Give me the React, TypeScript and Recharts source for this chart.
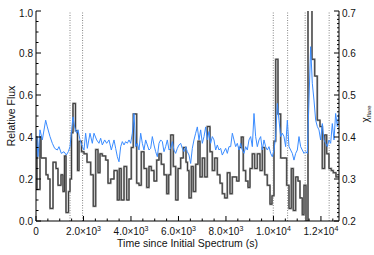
import React from "react";
import { LineChart, Line, XAxis, YAxis, ReferenceLine } from "recharts";

// relative flux, step histogram (bin start time in s)
const grayTimes = [
  0, 42, 168, 211, 421, 505, 590, 716, 842, 926, 1053, 1137, 1200, 1263, 1369, 1432, 1495, 1558, 1663, 1748,
  1811, 1916, 2021, 2148, 2303, 2413, 2514, 2611, 2695, 2792, 2935, 3032, 3146, 3285, 3424, 3508, 3592, 3706,
  3819, 3916, 4013, 4097, 4240, 4337, 4434, 4548, 4662, 4758, 4855, 4969, 5083, 5180, 5276, 5390, 5504, 5588,
  5672, 5782, 5883, 5980, 6093, 6203, 6317, 6380, 6443, 6540, 6624, 6725, 6822, 6906, 7003, 7104, 7213, 7327,
  7424, 7525, 7635, 7748, 7845, 7946, 8056, 8169, 8266, 8451, 8548, 8645, 8729, 8830, 8927, 9011, 9108, 9209,
  9319, 9433, 9530, 9631, 9740, 9854, 9938, 10022, 10094, 10191, 10304, 10414, 10557, 10654, 10751, 10835,
  10936, 11033, 11117, 11214, 11286, 11370, 11454, 11622, 11736, 11845, 11959, 12056, 12157, 12241, 12338,
  12435, 12519, 12633, 12760,
];
const grayFlux = [
  0.4, 0.15, 0.4, 0.3, 0.22, 0.2, 0.06, 0.28, 0.25, 0.17, 0.22, 0.14, 0.31, 0.04, 0.14, 0.2, 0.42, 0.56, 0.43, 0.24,
  0.38, 0.33, 0.32, 0.28, 0.22, 0.07, 0.34, 0.23, 0.32, 0.31, 0.29, 0.18, 0.2, 0.24, 0.1, 0.25, 0.1, 0.26,
  0.1, 0.2, 0.35, 0.51, 0.18, 0.17, 0.33, 0.25, 0.16, 0.26, 0.24, 0.19, 0.29, 0.32, 0.27, 0.22, 0.13, 0.22,
  0.41, 0.26, 0.1, 0.25, 0.3, 0.35, 0.28, 0.24, 0.11, 0.26, 0.14, 0.27, 0.38, 0.21, 0.3, 0.21, 0.45, 0.33,
  0.24, 0.3, 0.22, 0.18, 0.13, 0.11, 0.23, 0.13, 0.21, 0.19, 0.35, 0.4, 0.24, 0.19, 0.16, 0.25, 0.32, 0.25,
  0.32, 0.24, 0.35, 0.22, 0.17, 0.08, 0.12, 0.38, 0.77, 0.51, 0.3, 0.3, 0.17, 0.06, 0.25, 0.05,
  0.21, 0.19, 0.11, 0.03, 0.17, 0.0, 1.05, 0.77, 0.69, 0.48, 0.45, 0.25, 0.41, 0.32, 0.25,
  0.24, 0.23, 0.21, 0.21,
];

// chi_flare (right axis)
const blueTimes = [
  28, 84, 168, 267, 407, 477, 590, 688, 786, 898, 968, 1066, 1179, 1277, 1361, 1432, 1502, 1558, 1628, 1712,
  1769, 1853, 1951, 2021, 2091, 2162, 2274, 2372, 2442, 2555, 2653, 2723, 2793, 2892, 2976, 3074, 3172, 3285,
  3355, 3425, 3495, 3566, 3636, 3706, 3776, 3846, 3916, 3987, 4057, 4127, 4197, 4267, 4337, 4408, 4478, 4548,
  4618, 4688, 4758, 4829, 4899, 4969, 5039, 5109, 5180, 5250, 5320, 5390, 5460, 5530, 5601, 5671, 5741, 5811,
  5881, 5952, 6022, 6092, 6162, 6232, 6303, 6373, 6443, 6513, 6583, 6653, 6724, 6794, 6864, 6934, 7004, 7075,
  7145, 7215, 7285, 7355, 7425, 7496, 7566, 7636, 7706, 7776, 7846, 7917, 7987, 8057, 8127, 8198, 8268, 8338,
  8408, 8478, 8548, 8619, 8689, 8759, 8829, 8899, 8969, 9040, 9110, 9180, 9250, 9320, 9391, 9461, 9531, 9601,
  9671, 9742, 9812, 9882, 9952, 10022, 10093, 10163, 10233, 10303, 10373, 10443, 10514, 10584, 10654, 10724,
  10794, 10864, 10935, 11005, 11075, 11145, 11215, 11285, 11356, 11426, 11496, 11566, 11636, 11706, 11777,
  11847, 11917, 11987, 12057, 12128, 12198, 12268, 12338, 12408, 12478, 12549, 12619, 12689, 12759,
];
const blueChi = [
  0.401, 0.353, 0.417, 0.393, 0.44, 0.424, 0.401, 0.385, 0.373, 0.369, 0.377, 0.361, 0.365, 0.357, 0.365, 0.377, 0.417, 0.448, 0.424, 0.409,
  0.417, 0.393, 0.377, 0.369, 0.409, 0.373, 0.409, 0.385, 0.409, 0.393, 0.385, 0.397, 0.381, 0.393, 0.385, 0.393, 0.369, 0.393,
  0.373, 0.353, 0.341, 0.377, 0.389, 0.381, 0.389, 0.385, 0.393, 0.385, 0.409, 0.456, 0.377, 0.385, 0.369, 0.409, 0.385, 0.369,
  0.393, 0.381, 0.369, 0.373, 0.401, 0.381, 0.365, 0.353, 0.385, 0.393, 0.389, 0.365, 0.377, 0.393, 0.369, 0.373, 0.389, 0.369,
  0.361, 0.373, 0.381, 0.385, 0.373, 0.365, 0.377, 0.365, 0.357, 0.337, 0.373, 0.393, 0.409, 0.424, 0.393, 0.417, 0.385, 0.401,
  0.424, 0.393, 0.413, 0.385, 0.401, 0.393, 0.369, 0.381, 0.369, 0.373, 0.357, 0.365, 0.373, 0.361, 0.377, 0.377, 0.409, 0.393,
  0.377, 0.385, 0.369, 0.385, 0.369, 0.361, 0.377, 0.369, 0.393, 0.401, 0.377, 0.456, 0.401, 0.377, 0.393, 0.401, 0.369, 0.393,
  0.377, 0.369, 0.377, 0.361, 0.353, 0.369, 0.401, 0.48, 0.44, 0.401, 0.409, 0.401, 0.377, 0.44, 0.377, 0.369,
  0.361, 0.345, 0.361, 0.369, 0.401, 0.377, 0.369, 0.361, 0.365, 0.361, 0.488, 0.615, 0.528, 0.488, 0.44,
  0.425, 0.417, 0.393, 0.432, 0.393, 0.385, 0.377, 0.393, 0.385, 0.432, 0.393, 0.456, 0.425, 0.456,
];

const flareEdges = [1432, 1962, 9992, 10596, 11335, 12345];

const xMajor = [0, 2000, 4000, 6000, 8000, 10000, 12000];
const xMantissa = ["0", "2.0", "4.0", "6.0", "8.0", "1.0", "1.2"];
const xPower = ["", "3", "3", "3", "3", "4", "4"];
const fluxMajor = [0, 0.2, 0.4, 0.6, 0.8, 1.0];
const fluxLabels = ["0.0", "0.2", "0.4", "0.6", "0.8", "1.0"];
const chiMajor = [0.2, 0.3, 0.4, 0.5, 0.6, 0.7];
const chiLabels = ["0.2", "0.3", "0.4", "0.5", "0.6", "0.7"];

const X_MAX = 12760;
const FONT = "'Liberation Sans', Arial, Helvetica, sans-serif";

const steps = (from: number, to: number, step: number) => {
  const out: number[] = [];
  for (let i = 0; from + i * step <= to + 1e-9; i++) out.push(+(from + i * step).toFixed(4));
  return out;
};
const xTicks = steps(0, 12500, 500);
const fluxTicks = steps(0, 1, 0.05);
const chiTicks = steps(0.2, 0.7, 0.01);

const grayData = grayTimes.map((t, i) => ({ t, f: grayFlux[i] }));
const blueData = blueTimes.map((t, i) => ({ t, c: blueChi[i] }));

const makeTick = (side: string, majors: number[], labels?: string[], powers?: string[]) => (props: any) => {
  const { x, y, payload } = props;
  const v = payload.value;
  const idx = majors.findIndex((m) => Math.abs(m - v) < 1e-6);
  const major = idx >= 0;
  const len = major ? 5 : 2.5;
  const label = major && labels ? labels[idx] : null;
  const top = idx === majors.length - 1;
  if (side === "bottom") {
    return (
      <g>
        <line x1={x} y1={y} x2={x} y2={y - len} stroke="#000" />
        {label && (
          <text x={x} y={y + 14} textAnchor="middle" fontSize={10} fontFamily={FONT} fill="#111">
            {label}
            {powers && powers[idx] ? "×10" : ""}
            {powers && powers[idx] ? (
              <tspan dy={-4} fontSize={7}>
                {powers[idx]}
              </tspan>
            ) : null}
          </text>
        )}
      </g>
    );
  }
  if (side === "top") {
    return <line x1={x} y1={y} x2={x} y2={y + len} stroke="#000" />;
  }
  if (side === "left") {
    return (
      <g>
        <line x1={x} y1={y} x2={x + len} y2={y} stroke="#000" />
        {label && (
          <text x={x - 3} y={y + (top ? 6 : 3.6)} textAnchor="end" fontSize={10} fontFamily={FONT} fill="#111">
            {label}
          </text>
        )}
      </g>
    );
  }
  return (
    <g>
      <line x1={x} y1={y} x2={x - (major ? 5 : 2)} y2={y} stroke="#000" />
      {label && (
        <text x={x + 3} y={y + (top ? 6 : 3.6)} textAnchor="start" fontSize={10} fontFamily={FONT} fill="#111">
          {label}
        </text>
      )}
    </g>
  );
};

export default function App() {
  return (
    <div style={{ position: "absolute", left: 0, top: 0, width: 374, height: 255, background: "#fff" }}>
      <LineChart width={374} height={255} margin={{ top: 11, right: 0, bottom: 0, left: 0 }}>
        <XAxis
          xAxisId="b"
          type="number"
          dataKey="t"
          domain={[0, X_MAX]}
          ticks={xTicks}
          interval={0}
          height={34}
          tickSize={0}
          tickMargin={0}
          tickLine={false}
          axisLine={{ stroke: "#000" }}
          tick={makeTick("bottom", xMajor, xMantissa, xPower)}
          allowDataOverflow
        />
        <XAxis
          xAxisId="t"
          orientation="top"
          type="number"
          dataKey="t"
          domain={[0, X_MAX]}
          ticks={xTicks}
          interval={0}
          height={0}
          tickSize={0}
          tickMargin={0}
          tickLine={false}
          axisLine={{ stroke: "#000" }}
          tick={makeTick("top", xMajor)}
          allowDataOverflow
        />
        <YAxis
          yAxisId="left"
          domain={[0, 1]}
          ticks={fluxTicks}
          interval={0}
          width={36}
          tickSize={0}
          tickMargin={0}
          tickLine={false}
          axisLine={{ stroke: "#000" }}
          tick={makeTick("left", fluxMajor, fluxLabels)}
          allowDataOverflow
        />
        <YAxis
          yAxisId="right"
          orientation="right"
          domain={[0.2, 0.7]}
          ticks={chiTicks}
          interval={0}
          width={35}
          tickSize={0}
          tickMargin={0}
          tickLine={false}
          axisLine={{ stroke: "#000" }}
          tick={makeTick("right", chiMajor, chiLabels)}
          allowDataOverflow
        />
        {flareEdges.map((t) => (
          <ReferenceLine key={t} x={t} xAxisId="b" yAxisId="left" stroke="#666" strokeWidth={0.8} strokeDasharray="1 1.5" />
        ))}
        <Line
          data={grayData}
          xAxisId="b"
          yAxisId="left"
          dataKey="f"
          type="stepAfter"
          stroke="#9a9a9a"
          strokeWidth={2}
          dot={false}
          activeDot={false}
          isAnimationActive={false}
        />
        <Line
          data={grayData}
          xAxisId="b"
          yAxisId="left"
          dataKey="f"
          type="stepAfter"
          stroke="#333"
          strokeWidth={0.9}
          dot={false}
          activeDot={false}
          isAnimationActive={false}
        />
        <Line
          data={blueData}
          xAxisId="b"
          yAxisId="right"
          dataKey="c"
          type="linear"
          stroke="#3a8cff"
          strokeWidth={1}
          dot={false}
          activeDot={false}
          isAnimationActive={false}
        />
      </LineChart>
      <svg width={374} height={255} style={{ position: "absolute", left: 0, top: 0, pointerEvents: "none" }}>
        <text
          x={0}
          y={0}
          transform="translate(15,116) rotate(-90)"
          textAnchor="middle"
          fontSize={10.5}
          fontFamily={FONT}
          fill="#111"
        >
          Relative Flux
        </text>
        <text x={187.5} y={247} textAnchor="middle" fontSize={10.5} fontFamily={FONT} fill="#111">
          Time since Initial Spectrum (s)
        </text>
        <text x={0} y={0} transform="translate(369,114) rotate(-90)" textAnchor="middle" fontFamily={FONT} fill="#111">
          <tspan fontSize={10}>χ</tspan>
          <tspan fontSize={6} dy={2}>
            flare
          </tspan>
        </text>
      </svg>
    </div>
  );
}
